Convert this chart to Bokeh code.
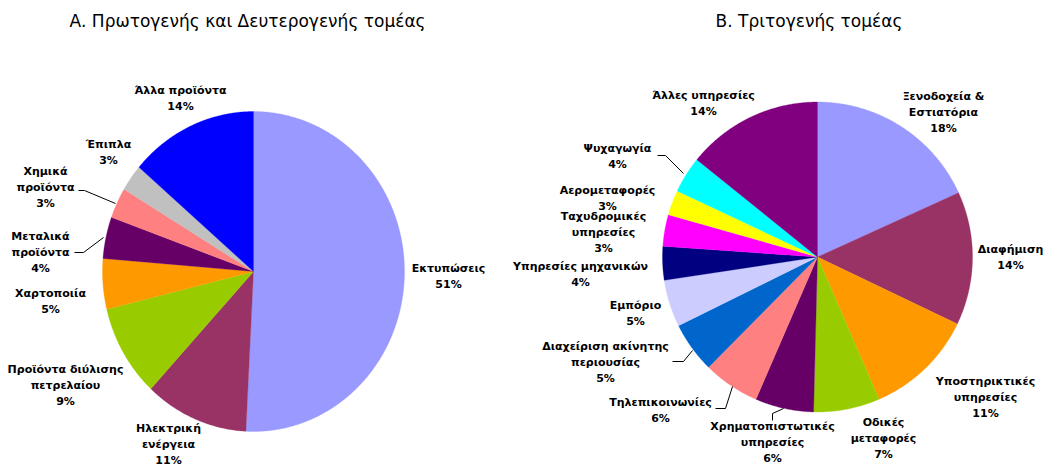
import numpy as np
from bokeh.plotting import figure
from bokeh.models import Range1d, ColumnDataSource
from bokeh.core.properties import value
from bokeh.embed import file_html
from bokeh.resources import INLINE

# ---------------- data ----------------
left_title = "Α. Πρωτογενής και Δευτερογενής τομέας"
left_categories = ["Εκτυπώσεις", "Ηλεκτρική\nενέργεια", "Προϊόντα διύλισης\nπετρελαίου",
                   "Χαρτοποιία", "Μεταλικά\nπροϊόντα", "Χημικά\nπροϊόντα", "Έπιπλα",
                   "Άλλα προϊόντα"]
left_values = [50.8, 11.1, 9.3, 5.1, 4.2, 3.1, 2.7, 13.7]
left_colors = ["#9999FF", "#993366", "#99CC00", "#FF9900", "#660066", "#FF8080",
               "#C0C0C0", "#0000FF"]

right_title = "Β. Τριτογενής τομέας"
right_categories = ["Ξενοδοχεία &\nΕστιατόρια", "Διαφήμιση", "Υποστηρικτικές\nυπηρεσίες",
                    "Οδικές\nμεταφορές", "Χρηματοπιστωτικές\nυπηρεσίες", "Τηλεπικοινωνίες",
                    "Διαχείριση ακίνητης\nπεριουσίας", "Εμπόριο", "Υπηρεσίες μηχανικών",
                    "Ταχυδρομικές\nυπηρεσίες", "Αερομεταφορές", "Ψυχαγωγία",
                    "Άλλες υπηρεσίες"]
right_values = [18.2, 13.9, 11.4, 6.9, 6.1, 5.9, 5.3, 4.9, 3.5, 3.3, 2.6, 3.8, 14.2]
right_colors = ["#9999FF", "#993366", "#FF9900", "#99CC00", "#660066", "#FF8080",
                "#0066CC", "#CCCCFF", "#000080", "#FF00FF", "#FFFF00", "#00FFFF",
                "#800080"]

# ---------------- layout (picture pixel coordinates) ----------------
W, H = 1045, 467
left_center, left_radii = (253, 271), (151, 160)
right_center, right_radii = (817, 256.5), (155, 155)

left_label_pos = [(448, 276), (168, 444), (65, 385), (50, 301), (40, 252),
                  (45, 187), (108, 152), (180, 98)]
right_label_pos = [(943, 112), (1010, 257), (985, 397), (883, 438), (772, 442),
                   (660, 410), (605, 362), (635, 313), (580, 274), (603, 232),
                   (607, 198), (617, 156), (703, 103)]

left_leaders = {4: [(74, 252), (83, 252), (103, 237)],
                5: [(78, 190), (84, 190), (115, 203)]}
right_leaders = {11: [(657, 155), (665, 155), (683, 173)],
                 6: [(672, 361), (683, 361), (692, 350)],
                 5: [(715, 408), (725, 408), (732, 386)],
                 4: [(772, 420), (772, 413), (783, 408)]}

p = figure(width=W, height=H, x_range=Range1d(0, W), y_range=Range1d(H, 0),
           output_backend="svg", toolbar_location=None, min_border=0)
p.axis.visible = False
p.grid.visible = False
p.outline_line_color = None
p.background_fill_color = "white"


def pie(values, colors, center, radii):
    cx, cy = center
    rx, ry = radii
    total = float(sum(values))
    edges = np.concatenate([[0.0], np.cumsum(values)]) / total * 2 * np.pi
    xs, ys = [], []
    for a0, a1 in zip(edges[:-1], edges[1:]):
        t = np.linspace(a0, a1, max(10, int((a1 - a0) * 150)))
        xs.append([cx] + list(cx + rx * np.sin(t)))
        ys.append([cy] + list(cy - ry * np.cos(t)))
    src = ColumnDataSource(dict(xs=xs, ys=ys, color=colors))
    p.patches("xs", "ys", source=src, fill_color="color", line_color="color",
              line_width=0.3)


def labels(cats, values, pos):
    txt = [f"{c}\n{int(v + 0.5)}%" for c, v in zip(cats, values)]
    src = ColumnDataSource(dict(x=[q[0] for q in pos], y=[q[1] for q in pos], t=txt))
    p.text("x", "y", text="t", source=src, text_font=value("DejaVu Sans"),
           text_font_style="bold", text_font_size="11px", text_align="center",
           text_baseline="middle", text_line_height=1.26, text_color="#000000")


def leaders(d):
    xs = [[q[0] for q in v] for v in d.values()]
    ys = [[q[1] for q in v] for v in d.values()]
    p.multi_line(xs, ys, line_color="black", line_width=1)


pie(left_values, left_colors, left_center, left_radii)
pie(right_values, right_colors, right_center, right_radii)
leaders(left_leaders)
leaders(right_leaders)
labels(left_categories, left_values, left_label_pos)
labels(right_categories, right_values, right_label_pos)

p.text(x=[247, 808.5], y=[20, 20], text=[left_title, right_title],
       text_font=value("DejaVu Sans"), text_font_size="17px", text_align="center",
       text_baseline="middle", text_color="#000000")

open("out.html", "w").write(file_html(p, INLINE))
